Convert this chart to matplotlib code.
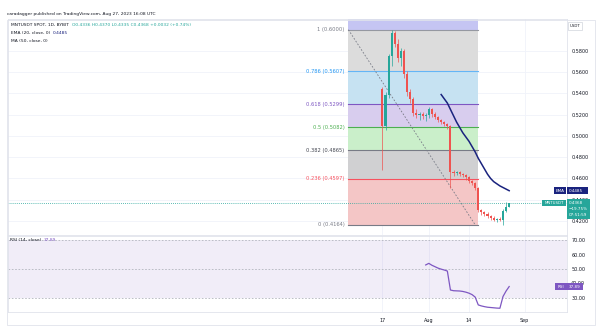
import numpy as np
import matplotlib
matplotlib.use("Agg")
import matplotlib.pyplot as plt
from matplotlib.patches import Rectangle
from matplotlib.transforms import IdentityTransform

# MNTUSDT daily candles, day 0 = Jul 17 2023
opens = [0.544, 0.509, 0.539, 0.575, 0.597, 0.587, 0.573, 0.580, 0.558, 0.541,
         0.535, 0.522, 0.520, 0.521, 0.519, 0.520, 0.525, 0.521, 0.518, 0.515,
         0.513, 0.511, 0.509, 0.466, 0.465, 0.466, 0.464, 0.463, 0.461, 0.458,
         0.456, 0.451, 0.430, 0.428, 0.427, 0.425, 0.423, 0.421, 0.422, 0.421,
         0.429, 0.4336]
highs = [0.546, 0.541, 0.577, 0.600, 0.599, 0.591, 0.583, 0.582, 0.561, 0.544,
         0.537, 0.525, 0.523, 0.523, 0.522, 0.527, 0.526, 0.523, 0.519, 0.516,
         0.514, 0.512, 0.510, 0.468, 0.467, 0.467, 0.465, 0.464, 0.462, 0.459,
         0.457, 0.452, 0.431, 0.429, 0.428, 0.426, 0.425, 0.423, 0.424, 0.431,
         0.438, 0.4370]
lows = [0.468, 0.506, 0.536, 0.566, 0.584, 0.570, 0.566, 0.555, 0.538, 0.531,
        0.519, 0.517, 0.515, 0.516, 0.514, 0.517, 0.518, 0.516, 0.513, 0.511,
        0.509, 0.507, 0.451, 0.462, 0.463, 0.462, 0.461, 0.459, 0.456, 0.454,
        0.449, 0.428, 0.426, 0.425, 0.423, 0.421, 0.420, 0.419, 0.420, 0.4164,
        0.428, 0.4335]
closes = [0.509, 0.539, 0.575, 0.597, 0.587, 0.573, 0.580, 0.558, 0.541, 0.535,
          0.522, 0.520, 0.521, 0.519, 0.520, 0.525, 0.521, 0.518, 0.515, 0.513,
          0.511, 0.509, 0.466, 0.465, 0.466, 0.464, 0.463, 0.461, 0.458, 0.456,
          0.451, 0.430, 0.428, 0.427, 0.425, 0.423, 0.421, 0.422, 0.421, 0.429,
          0.4336, 0.4368]
days = np.arange(len(opens))

ema_start = 19
ema20 = [0.539, 0.535, 0.531, 0.525, 0.519, 0.513, 0.508, 0.503, 0.499, 0.495,
         0.490, 0.485, 0.479, 0.474, 0.469, 0.464, 0.460, 0.457, 0.455, 0.453,
         0.4515, 0.450, 0.4485]

rsi_start = 14
rsi14 = [52.8, 53.9, 52.6, 51.6, 50.6, 49.9, 49.3, 48.6, 35.5, 35.0,
         34.9, 34.8, 34.5, 34.0, 33.3, 32.3, 30.6, 25.2, 24.5, 24.0,
         23.6, 23.4, 23.2, 23.0, 22.9, 31.0, 34.8, 37.89]

fib_ratios = [1, 0.786, 0.618, 0.5, 0.382, 0.236, 0]
fib_prices = [0.6000, 0.5607, 0.5299, 0.5082, 0.4865, 0.4597, 0.4164]
fib_start, fib_end = -11, 31

price_ticks = [0.42, 0.44, 0.46, 0.48, 0.50, 0.52, 0.54, 0.56, 0.58]
rsi_ticks = [30, 40, 50, 60, 70]
date_ticks = [0, 15, 28, 46]
date_labels = ["17", "Aug", "14", "Sep"]

UP, DOWN = "#26a69a", "#ef5350"
EMA_C, RSI_C = "#1a237e", "#7e57c2"
GRID = "#f0f3fa"
fib_lines = ["#9598a1", "#64b5f6", "#7e57c2", "#4caf50", "#787b86", "#f7525f", "#787b86"]
fib_fills = ["#dcdcdc", "#c6e2f2", "#d8cdee", "#caefca", "#d0d0d2", "#f4c6c6"]
fib_label_c = ["#787b86", "#2196f3", "#7e57c2", "#4caf50", "#434651", "#f7525f", "#787b86"]

W, H = 600, 326
PX = IdentityTransform()
fig = plt.figure(figsize=(W / 100, H / 100), dpi=100)
fig.patch.set_facecolor("white")


def box(l, t, r, b):
    return [l / W, 1 - b / H, (r - l) / W, (b - t) / H]


ax = fig.add_axes(box(8, 19, 567, 235))
rx = fig.add_axes(box(8, 236, 567, 312), sharex=ax)

for a in (ax, rx):
    a.set_facecolor("white")
    for s in a.spines.values():
        s.set_color("#e0e3eb")
        s.set_linewidth(0.6)
    a.yaxis.tick_right()
    a.tick_params(length=0, labelsize=3.5, labelcolor="#131722", pad=3)
    for d in date_ticks:
        a.axvline(d, color=GRID, lw=0.6, zorder=0)

ax.set_xlim(-121.1, 59.7)
ax.set_ylim(0.4068, 0.6101)
ax.set_yticks(price_ticks)
ax.set_yticklabels([f"{p:.4f}" for p in price_ticks])
for p in price_ticks:
    ax.axhline(p, color=GRID, lw=0.6, zorder=0)
ax.tick_params(axis="x", labelbottom=False)

# fibonacci retracement
ax.add_patch(Rectangle((fib_start, fib_prices[0]), fib_end - fib_start, 0.03,
                       fc="#c5c5f3", ec="none", zorder=1))
for k in range(len(fib_prices) - 1):
    ax.add_patch(Rectangle((fib_start, fib_prices[k + 1]), fib_end - fib_start,
                           fib_prices[k] - fib_prices[k + 1],
                           fc=fib_fills[k], ec="none", zorder=1))
for r, p, lc, tc in zip(fib_ratios, fib_prices, fib_lines, fib_label_c):
    ax.plot([fib_start, fib_end], [p, p], color=lc, lw=0.8, zorder=2)
    ax.text(fib_start - 1.3, p, f"{r:g} ({p:.4f})", ha="right", va="center",
            fontsize=3.7, color=tc, zorder=3)
ax.plot([fib_start, fib_end - 1], [fib_prices[0], fib_prices[-1]],
        color="#787b86", lw=0.6, ls=(0, (2, 2)), zorder=2)

# last price line
ax.axhline(closes[-1], color=UP, lw=0.6, ls=(0, (1, 1.5)), zorder=2)

# candles
colors = [UP if c >= o else DOWN for o, c in zip(opens, closes)]
ax.vlines(days, lows, highs, colors=colors, lw=0.5, zorder=4)
bottoms = np.minimum(opens, closes)
heights = np.maximum(np.abs(np.array(closes) - np.array(opens)), 0.0008)
ax.bar(days, heights, bottom=bottoms, width=0.68, color=colors, lw=0, zorder=5)

ax.plot(np.arange(ema_start, ema_start + len(ema20)), ema20, color=EMA_C,
        lw=1.1, zorder=6)

# RSI pane
rx.set_ylim(20.3, 72.8)
rx.set_yticks(rsi_ticks)
rx.set_yticklabels([f"{v:.2f}" for v in rsi_ticks])
rx.axhspan(30, 70, color="#7e57c2", alpha=0.1, lw=0, zorder=0)
for v in (30, 50, 70):
    rx.axhline(v, color="#b2b5be", lw=0.6, ls=(0, (2, 2)), zorder=1)
rx.plot(np.arange(rsi_start, rsi_start + len(rsi14)), rsi14, color=RSI_C,
        lw=0.9, zorder=3)
rx.set_xticks(date_ticks)
rx.set_xticklabels(date_labels)
rx.tick_params(axis="x", pad=4)


def tag(a, val, x0, x1, h, fc, top=None):
    y = a.transData.transform((0, val))[1]
    y0 = y - h / 2 if top is None else y + top - h
    fig.patches.append(Rectangle((x0, y0), x1 - x0, h, transform=PX,
                                 fc=fc, ec="none", zorder=10))
    return y


def tag_text(x, y, s, ha="left", size=3.0):
    fig.text(x, y, s, transform=PX, ha=ha, va="center", fontsize=size,
             color="white", zorder=11)


y = tag(ax, ema20[-1], 554, 566, 6.5, EMA_C)
tag_text(560, y, "EMA", ha="center")
tag(ax, ema20[-1], 567, 588, 6.5, EMA_C)
tag_text(569, y, f"{ema20[-1]:.4f}")

y = tag(ax, closes[-1], 542, 566, 6.5, UP)
tag_text(554, y, "MNTUSDT", ha="center", size=2.8)
tag(ax, closes[-1], 567, 590, 20, UP, top=4)
for k, s in enumerate([f"{closes[-1]:.4f}", "\u221219.75%", "07:51:59"]):
    tag_text(569, y - k * 6, s)

y = tag(rx, rsi14[-1], 555, 567, 6.5, RSI_C)
tag_text(561, y, "RSI", ha="center")
tag(rx, rsi14[-1], 567, 583, 6.5, RSI_C)
tag_text(569, y, f"{rsi14[-1]:.2f}")

# currency box
fig.patches.append(Rectangle((568, H - 30), 14, 8, transform=PX,
                             fc="white", ec="#d1d4dc", lw=0.5, zorder=10))
fig.text(575, H - 26, "USDT", transform=PX, ha="center", va="center",
         fontsize=2.8, color="#131722", zorder=11)

# outer frame
fig.patches.append(Rectangle((7, 1), 588, H - 21, transform=PX,
                             fc="none", ec="#e0e3eb", lw=0.6, zorder=9))

# header and legends
fig.text(7, H - 14, "caradagger published on TradingView.com, Aug 27, 2023 16:08 UTC",
         transform=PX, va="center", fontsize=3.15, color="#131722")

t1 = ax.annotate("MNTUSDT SPOT, 1D, BYBIT", xy=(11, H - 25), xycoords="figure pixels",
                 va="center", fontsize=3.2, color="#131722", annotation_clip=False)
ax.annotate(f"O{opens[-1]:.4f} H{highs[-1]:.4f} L{lows[-1]:.4f} C{closes[-1]:.4f} "
            "+0.0032 (+0.74%)", xy=(1, 0.5), xycoords=t1, xytext=(2, 0),
            textcoords="offset points", va="center", fontsize=3.2, color=UP)
t2 = ax.annotate("EMA (20, close, 0)", xy=(11, H - 33), xycoords="figure pixels",
                 va="center", fontsize=3.2, color="#131722", annotation_clip=False)
ax.annotate(f"{ema20[-1]:.4f}", xy=(1, 0.5), xycoords=t2, xytext=(2, 0),
            textcoords="offset points", va="center", fontsize=3.2, color=EMA_C)
ax.annotate("MA (50, close, 0)", xy=(11, H - 41), xycoords="figure pixels",
            va="center", fontsize=3.2, color="#131722", annotation_clip=False)
t3 = rx.annotate("RSI (14, close)", xy=(10, H - 240), xycoords="figure pixels",
                 va="center", fontsize=3.2, color="#131722", annotation_clip=False)
rx.annotate(f"{rsi14[-1]:.2f}", xy=(1, 0.5), xycoords=t3, xytext=(2, 0),
            textcoords="offset points", va="center", fontsize=3.2, color=RSI_C)

fig.savefig("out.png", dpi=100)
